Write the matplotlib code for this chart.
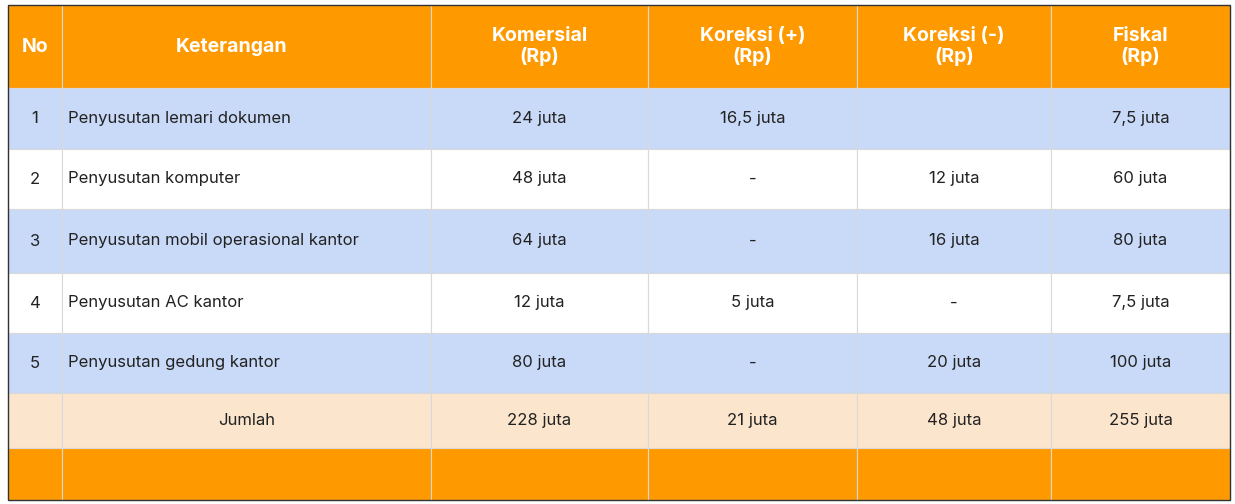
import matplotlib
matplotlib.use("Agg")
import matplotlib.pyplot as plt
from matplotlib.patches import Rectangle

headers = ["No", "Keterangan", "Komersial\n(Rp)", "Koreksi (+)\n(Rp)", "Koreksi (-)\n(Rp)", "Fiskal\n(Rp)"]
nos = ["1", "2", "3", "4", "5"]
keterangan = ["Penyusutan lemari dokumen", "Penyusutan komputer",
              "Penyusutan mobil operasional kantor", "Penyusutan AC kantor",
              "Penyusutan gedung kantor"]
komersial = ["24 juta", "48 juta", "64 juta", "12 juta", "80 juta"]
koreksi_plus = ["16,5 juta", "-", "-", "5 juta", "-"]
koreksi_min = ["", "12 juta", "16 juta", "-", "20 juta"]
fiskal = ["7,5 juta", "60 juta", "80 juta", "7,5 juta", "100 juta"]
total = ["", "Jumlah", "228 juta", "21 juta", "48 juta", "255 juta"]

xs = [8, 62, 431, 648, 857, 1051, 1230]
ys = [5, 88, 149, 209, 273, 333, 393, 448, 500]
orange = "#FF9900"; blue = "#C9DAF8"; peach = "#FCE5CD"

fig = plt.figure(figsize=(12.35, 5.04), dpi=100)
ax = fig.add_axes([0, 0, 1, 1])
ax.set_xlim(0, 1235); ax.set_ylim(504, 0); ax.axis("off")
plt.rcParams['font.family'] = ['Inter', 'DejaVu Sans']

rows = [headers] + [[nos[i], keterangan[i], komersial[i], koreksi_plus[i], koreksi_min[i], fiskal[i]] for i in range(5)] + [total, [""] * 6]
fills = [orange, blue, "white", blue, "white", blue, peach, orange]
for r, row in enumerate(rows):
    y0, y1 = ys[r], ys[r + 1]
    for c in range(6):
        x0, x1 = xs[c], xs[c + 1]
        ax.add_patch(Rectangle((x0, y0), x1 - x0, y1 - y0, facecolor=fills[r],
                               edgecolor="#D9D9D9", linewidth=0.8))
        txt = row[c]
        if not txt:
            continue
        yc = (y0 + y1) / 2
        if r == 0:
            ax.text((x0 + x1) / 2 if c != 1 else 176, yc, txt, ha="center" if c != 1 else "left",
                    va="center", color="white", fontsize=14, fontweight="bold", linespacing=1.1)
        elif c == 1 and r < 6:
            ax.text(x0 + 6, yc, txt, ha="left", va="center", color="#222222", fontsize=12)
        else:
            ax.text((x0 + x1) / 2, yc, txt, ha="center", va="center", color="#222222", fontsize=12)
ax.add_patch(Rectangle((xs[0], ys[0]), xs[-1] - xs[0], ys[-1] - ys[0], fill=False,
                       edgecolor="#333333", linewidth=1))
fig.savefig("out.png", dpi=100)
